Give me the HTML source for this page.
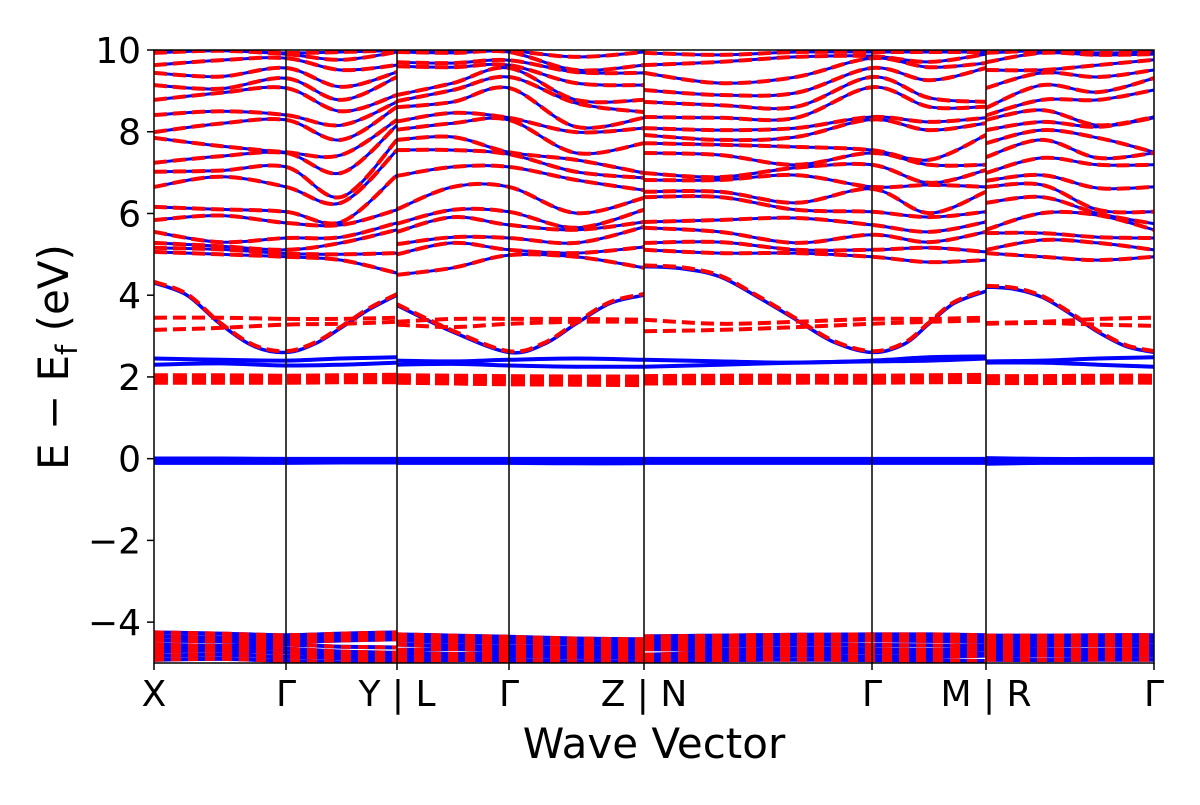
<!DOCTYPE html>
<html><head><meta charset="utf-8"><style>
body{margin:0;background:#fff;}
svg text{font-family:"DejaVu Sans","Liberation Sans",sans-serif;fill:#000;}
</style></head><body>
<svg id="chart" width="1200" height="800" xmlns="http://www.w3.org/2000/svg">
<defs><clipPath id="plotclip"><rect x="154" y="50" width="1000" height="613"/></clipPath></defs>
<rect width="1200" height="800" fill="#fff"/>
<g id="marks" clip-path="url(#plotclip)"></g>
<g id="axes"></g>
</svg>
<script>
// ---- data ----
const pathLabels=["X","Γ","Y | L","Γ","Z | N","Γ","M | R","Γ"];
const pathNodes=[0,1.32,2.43,3.55,4.90,7.18,8.32,10.0];
const yTicks=[10,8,6,4,2,0,-2,-4];
const colK=[[0,0.66,1.32,1.87,2.43],[2.43,2.99,3.55,4.22,4.90],[4.90,5.66,6.42,7.18,7.75,8.32],[8.32,8.88,9.44,10.0]];
const condCols=[
[9.98,9.93,9.63,9.44,9.14,8.78,8.41,7.99,7.85,7.24,7.02,6.65,6.16,5.84,5.55,5.28,5.16,5.06],
[9.99,9.98,9.75,9.35,9.05,8.95,8.50,8.20,7.65,7.40,7.05,6.90,6.10,5.95,5.30,5.20,5.12,5.00],
[9.93,9.90,9.80,9.56,9.31,9.07,8.41,8.29,7.50,7.48,7.14,6.65,6.04,5.77,5.40,5.11,5.02,4.94],
[9.95,9.76,9.51,9.10,8.78,8.50,8.16,7.80,7.43,6.99,6.40,6.26,5.79,5.72,5.42,5.28,5.00,4.86],
[9.99,9.95,9.63,9.46,9.34,8.90,8.73,8.61,8.29,8.16,7.80,7.55,6.94,6.09,5.77,5.60,5.03,4.54],
[9.98,9.95,9.70,9.60,8.90,8.75,8.60,8.25,8.05,7.80,7.55,6.92,6.10,5.75,5.55,5.25,5.00,4.50],
[9.98,9.93,9.68,9.58,9.19,9.02,8.73,8.46,8.21,7.87,7.55,7.14,6.65,6.09,5.91,5.42,5.28,4.67],
[9.98,9.95,9.75,9.63,9.56,9.34,9.07,8.34,8.29,7.50,7.45,7.14,6.65,6.04,5.72,5.40,5.11,4.98],
[9.83,9.51,9.46,9.19,8.78,8.70,8.12,7.99,7.48,7.31,7.02,6.82,6.01,5.65,5.60,5.28,5.03,4.94],
[9.95,9.63,9.44,9.14,8.78,8.48,8.34,8.09,7.72,6.99,6.87,6.57,6.38,6.09,5.79,5.67,5.18,4.67],
[9.93,9.63,9.44,9.02,8.73,8.36,8.09,7.92,7.72,7.48,6.99,6.82,6.53,6.40,5.79,5.65,5.28,5.11],
[9.88,9.71,9.19,8.90,8.65,8.34,8.04,7.80,7.68,7.43,6.89,6.82,6.53,6.40,5.84,5.55,5.30,5.03],
[9.95,9.83,9.34,8.95,8.61,8.34,8.09,7.87,7.63,7.19,7.12,6.94,6.26,6.09,5.89,5.28,5.11,5.03],
[9.95,9.85,9.80,9.56,9.34,9.09,8.36,8.30,7.55,7.48,7.19,6.65,6.60,6.04,5.72,5.48,5.11,4.94],
[9.95,9.71,9.58,9.26,8.83,8.61,8.24,8.04,7.31,7.19,6.75,6.70,6.01,5.91,5.55,5.30,5.16,4.81],
[9.95,9.90,9.68,9.56,8.73,8.61,8.34,8.21,7.92,7.19,7.06,6.65,6.53,6.04,5.79,5.55,5.06,4.86],
[9.93,9.70,9.51,9.07,8.58,8.40,8.29,8.04,7.72,7.38,6.99,6.80,6.65,6.26,5.60,5.52,5.11,5.03],
[9.98,9.93,9.51,9.44,9.14,8.78,8.53,8.24,8.04,7.80,7.36,6.94,6.70,6.40,6.01,5.52,5.35,4.94],
[9.93,9.88,9.63,9.34,8.97,8.78,8.16,8.12,7.85,7.36,7.19,6.62,6.09,6.00,5.96,5.42,5.28,4.86],
[9.95,9.90,9.76,9.51,9.31,9.02,8.36,8.34,7.50,7.48,7.19,6.65,6.04,5.75,5.60,5.40,5.11,4.94]];
const dispK=[[0,0.33,0.66,1.0,1.32,1.6,1.87,2.15,2.43],[2.43,2.99,3.55,3.9,4.22,4.56,4.90],[4.90,5.28,5.66,6.04,6.42,6.8,7.18,7.5,7.75,8.0,8.32],[8.32,8.6,8.88,9.16,9.44,9.72,10.0]];
const dispE=[[4.3,4.0,3.3,2.75,2.6,2.8,3.2,3.65,4.0],[3.75,3.1,2.6,2.8,3.3,3.8,4.0],[4.7,4.65,4.45,3.95,3.4,2.85,2.6,2.8,3.3,3.8,4.1],[4.2,4.15,3.95,3.55,3.1,2.75,2.6]];
const redUpper=[3.45,3.45,3.42,3.42,3.45,3.35,3.42,3.42,3.42,3.40,3.40,3.30,3.35,3.42,3.42,3.45,3.32,3.35,3.42,3.45];
const redLower=[3.15,3.20,3.28,3.30,3.35,3.28,3.22,3.30,3.35,3.35,3.12,3.15,3.22,3.30,3.35,3.38,3.30,3.32,3.28,3.25];
const blueA=[2.45,2.42,2.40,2.45,2.48,2.40,2.38,2.42,2.45,2.42,2.42,2.38,2.35,2.40,2.48,2.50,2.38,2.40,2.45,2.48];
const blueB=[2.30,2.33,2.28,2.30,2.35,2.30,2.32,2.28,2.25,2.25,2.25,2.30,2.35,2.38,2.40,2.45,2.35,2.35,2.30,2.25];
const redThickA=[1.98,1.98,1.97,1.98,1.99,1.98,1.97,1.96,1.95,1.95,1.96,1.97,1.97,1.97,1.98,1.99,1.96,1.96,1.97,1.97];
const redThickB=[1.92,1.92,1.92,1.93,1.93,1.92,1.90,1.88,1.87,1.86,1.90,1.91,1.92,1.92,1.93,1.94,1.91,1.91,1.92,1.92];
const blueZeroA=[-0.02,-0.02,-0.03,-0.03,-0.03,-0.03,-0.03,-0.03,-0.03,-0.03,-0.03,-0.03,-0.03,-0.03,-0.03,-0.03,-0.01,-0.03,-0.03,-0.03];
const blueZeroB=[-0.08,-0.08,-0.08,-0.07,-0.07,-0.08,-0.08,-0.08,-0.09,-0.09,-0.08,-0.08,-0.08,-0.08,-0.08,-0.08,-0.10,-0.08,-0.08,-0.08];
const valBands=[
[-4.25,-4.28,-4.32,-4.28,-4.25,-4.30,-4.33,-4.36,-4.40,-4.42,-4.35,-4.33,-4.31,-4.30,-4.30,-4.32,-4.33,-4.33,-4.32,-4.32],
[-4.35,-4.38,-4.40,-4.36,-4.33,-4.38,-4.40,-4.42,-4.45,-4.48,-4.42,-4.40,-4.38,-4.37,-4.38,-4.40,-4.40,-4.42,-4.40,-4.40],
[-4.45,-4.47,-4.48,-4.45,-4.42,-4.45,-4.48,-4.50,-4.52,-4.55,-4.50,-4.48,-4.46,-4.45,-4.46,-4.48,-4.48,-4.50,-4.49,-4.48],
[-4.55,-4.58,-4.55,-4.60,-4.62,-4.55,-4.58,-4.60,-4.62,-4.63,-4.58,-4.57,-4.55,-4.56,-4.57,-4.58,-4.58,-4.56,-4.57,-4.58],
[-4.65,-4.62,-4.65,-4.72,-4.75,-4.68,-4.66,-4.68,-4.70,-4.72,-4.66,-4.67,-4.65,-4.66,-4.68,-4.66,-4.66,-4.66,-4.68,-4.67],
[-4.72,-4.70,-4.75,-4.80,-4.82,-4.76,-4.78,-4.76,-4.78,-4.80,-4.80,-4.75,-4.73,-4.74,-4.76,-4.76,-4.74,-4.75,-4.76,-4.74],
[-4.82,-4.80,-4.85,-4.88,-4.90,-4.86,-4.85,-4.84,-4.86,-4.88,-4.88,-4.84,-4.82,-4.84,-4.85,-4.82,-4.84,-4.82,-4.83,-4.82],
[-4.92,-4.90,-4.95,-4.98,-4.96,-4.95,-4.93,-4.94,-4.96,-4.98,-4.96,-4.93,-4.92,-4.93,-4.94,-4.95,-4.92,-4.93,-4.92,-4.92]];

// ---- axis functions ----
const X0=154,X1=1154,Y0=50,Y1=663,KMAX=10,EMIN=-5,EMAX=10;
function xOf(k){return X0+(k/KMAX)*(X1-X0);}
function yOf(e){return Y0+(EMAX-e)/(EMAX-EMIN)*(Y1-Y0);}
const NS="http://www.w3.org/2000/svg";
const marks=document.getElementById('marks');
const axes=document.getElementById('axes');
function mk(tag,attrs,parent){const el=document.createElementNS(NS,tag);for(const a in attrs)el.setAttribute(a,attrs[a]);parent.appendChild(el);return el;}
function smooth(ks,es){
  const p=ks.map((k,i)=>[xOf(k),yOf(es[i])]);
  let d='M'+p[0][0].toFixed(1)+','+p[0][1].toFixed(1);
  for(let i=0;i<p.length-1;i++){
    const a=p[Math.max(0,i-1)],b=p[i],c=p[i+1],e=p[Math.min(p.length-1,i+2)];
    const c1=[b[0]+(c[0]-a[0])/6,b[1]+(c[1]-a[1])/6],c2=[c[0]-(e[0]-b[0])/6,c[1]-(e[1]-b[1])/6];
    d+='C'+c1[0].toFixed(1)+','+c1[1].toFixed(1)+' '+c2[0].toFixed(1)+','+c2[1].toFixed(1)+' '+c[0].toFixed(1)+','+c[1].toFixed(1);
  }
  return d;
}
function pieceSlices(arr){const out=[];let s=0;colK.forEach(ks=>{out.push(arr.slice(s,s+ks.length));s+=ks.length;});return out;}
function drawSeries(arr,name,style){
  pieceSlices(arr).forEach((vals,pi)=>{
    const p=mk('path',{d:smooth(colK[pi],vals),fill:'none',stroke:style.c,'stroke-width':style.w,'stroke-dasharray':style.dash||'none'},marks);
    
    
  });
}
const BLUE={c:'#0000ff',w:3};
const RED={c:'#ff0000',w:4,dash:'13,6'};
const condSorted=condCols.map(c=>c.slice().sort((a,b)=>b-a));
const nBands=condSorted[0].length;
for(let b=0;b<nBands;b++){
  const arr=condSorted.map(c=>c[b]);
  drawSeries(arr,'band-blue-'+b,BLUE);
  drawSeries(arr,'band-red-'+b,RED);
}
dispK.forEach((ks,pi)=>{
  const p1=mk('path',{d:smooth(ks,dispE[pi]),fill:'none',stroke:'#0000ff','stroke-width':3.5},marks);
  
  
  const p2=mk('path',{d:smooth(ks,dispE[pi].map(v=>v+0.03)),fill:'none',stroke:'#ff0000','stroke-width':4,'stroke-dasharray':'13,6'},marks);
  
  
});
drawSeries(redUpper,'flat-red-upper',RED);
drawSeries(redLower,'flat-red-lower',RED);
drawSeries(blueA,'flat-blue-a',{c:'#0000ff',w:4});
drawSeries(blueB,'flat-blue-b',{c:'#0000ff',w:4});
drawSeries(redThickA,'flat-red-thick-a',{c:'#ff0000',w:9,dash:'14,5'});
drawSeries(redThickB,'flat-red-thick-b',{c:'#ff0000',w:9,dash:'14,5'});
drawSeries(blueZeroA,'zero-blue-a',{c:'#0000ff',w:6});
drawSeries(blueZeroB,'zero-blue-b',{c:'#0000ff',w:6});
valBands.forEach((arr,i)=>{drawSeries(arr,'valence-blue-'+i,{c:'#0000ff',w:4});});
valBands.forEach((arr,i)=>{drawSeries(arr,'valence-red-'+i,{c:'#ff0000',w:4,dash:'10,7'});});

const fr=mk('rect',{x:X0,y:Y0,width:X1-X0,height:Y1-Y0,fill:'none',stroke:'#000','stroke-width':1.5},axes);


pathNodes.forEach((k,i)=>{
  const x=xOf(k);
  if(i>0&&i<pathNodes.length-1){
    const l=mk('line',{x1:x,y1:Y0,x2:x,y2:Y1,stroke:'#000','stroke-width':1.5},axes);
    
    
  }
  const t=mk('line',{x1:x,y1:Y1,x2:x,y2:Y1+7,stroke:'#000','stroke-width':1.5},axes);
  
  
  const tx=mk('text',{x:x,y:706,'font-size':36,'text-anchor':'middle'},axes);
  tx.textContent=pathLabels[i];
  
  
});
yTicks.forEach(v=>{
  const y=yOf(v);
  const t=mk('line',{x1:X0-7,y1:y,x2:X0,y2:y,stroke:'#000','stroke-width':1.5},axes);
  
  
  const tx=mk('text',{x:X0-13,y:y+13,'font-size':36,'text-anchor':'end'},axes);
  tx.textContent=v<0?'\u2212'+Math.abs(v):String(v);
  
  
});
const xl=mk('text',{x:654,y:758,'font-size':42,'text-anchor':'middle'},axes);
xl.textContent='Wave Vector';


const yl=mk('text',{x:0,y:0,'font-size':42,'text-anchor':'middle',transform:'translate(68,357) rotate(-90)'},axes);


yl.innerHTML='E \u2212 E<tspan font-size="29" dy="9">f</tspan><tspan dy="-9"> (eV)</tspan>';
</script>
</body></html>
